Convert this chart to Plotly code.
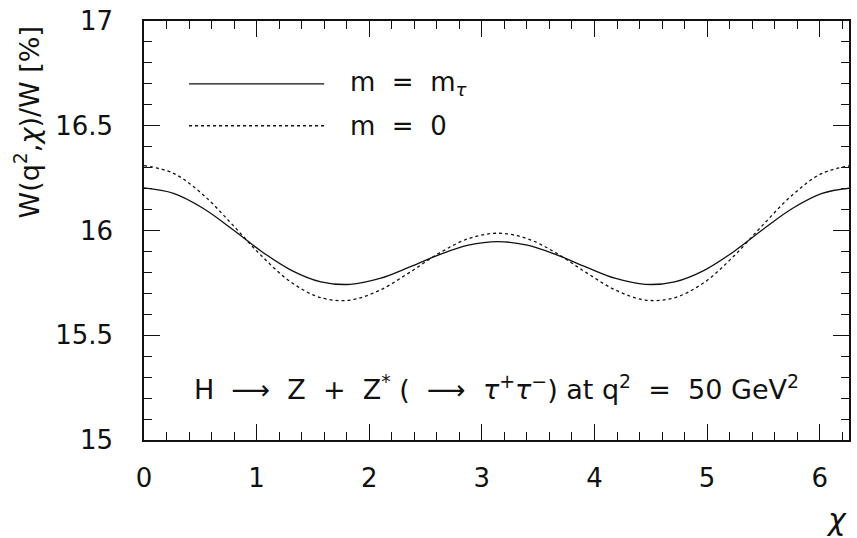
import plotly.graph_objects as go

# Angle chi between decay planes (rad), sampled every pi/12
chi = [0.000, 0.262, 0.524, 0.785, 1.047, 1.309, 1.571, 1.833, 2.094, 2.356,
       2.618, 2.880, 3.142, 3.403, 3.665, 3.927, 4.189, 4.451, 4.712, 4.974,
       5.236, 5.498, 5.760, 6.021, 6.283]

# W(q^2, chi)/W in percent, tau mass kept
w_mtau = [16.203, 16.177, 16.106, 16.006, 15.899, 15.810, 15.755, 15.743, 15.771,
          15.825, 15.884, 15.930, 15.947, 15.930, 15.884, 15.825, 15.771, 15.743,
          15.755, 15.810, 15.899, 16.006, 16.106, 16.177, 16.203]

# Same distribution for massless leptons
w_m0 = [16.310, 16.273, 16.171, 16.028, 15.877, 15.752, 15.679, 15.668, 15.715,
        15.799, 15.891, 15.961, 15.987, 15.961, 15.891, 15.799, 15.715, 15.668,
        15.679, 15.752, 15.877, 16.028, 16.171, 16.273, 16.310]

x_ticks = [0, 1, 2, 3, 4, 5, 6]
y_ticks = [15, 15.5, 16, 16.5, 17]
y_tick_text = ["15", "15.5", "16", "16.5", "17"]

FONT = "DejaVu Sans"
INK = "#111111"
SP = "\u00a0"
SP2 = SP * 2

fig = go.Figure()
fig.add_trace(go.Scatter(x=chi, y=w_mtau, mode="lines", line_shape="spline",
                         line=dict(color=INK, width=1.3), showlegend=False))
fig.add_trace(go.Scatter(x=chi, y=w_m0, mode="lines", line_shape="spline",
                         line=dict(color=INK, width=1.3, dash="dot"), showlegend=False))

axis_common = dict(showgrid=False, zeroline=False, showline=True, linecolor=INK,
                   linewidth=1.5, mirror="ticks", ticks="inside", ticklen=16,
                   tickwidth=1.2, tickcolor=INK,
                   tickfont=dict(family=FONT, size=26, color=INK))

fig.update_xaxes(range=[0, 6.26], tickvals=x_ticks, ticklabelstandoff=14,
                 minor=dict(dtick=0.2, ticks="inside", ticklen=8, tickwidth=1, tickcolor=INK),
                 **axis_common)
fig.update_yaxes(range=[15, 17], tickvals=y_ticks, ticktext=y_tick_text,
                 ticklabelstandoff=24,
                 minor=dict(dtick=0.1, ticks="inside", ticklen=8, tickwidth=1, tickcolor=INK),
                 **axis_common)

# Hand-drawn legend
fig.add_shape(type="line", x0=0.40, x1=1.60, y0=16.70, y1=16.70,
              line=dict(color=INK, width=1.3))
fig.add_shape(type="line", x0=0.40, x1=1.60, y0=16.50, y1=16.50,
              line=dict(color=INK, width=1.3, dash="dot"))

text_font = dict(family=FONT, size=26, color=INK)
fig.add_annotation(x=1.81, y=16.70, xanchor="left", yanchor="middle", showarrow=False,
                   text=f"m{SP2}={SP2}m<sub><i>τ</i></sub>", font=text_font)
fig.add_annotation(x=1.81, y=16.50, xanchor="left", yanchor="middle", showarrow=False,
                   text=f"m{SP2}={SP2}0", font=text_font)
fig.add_annotation(x=0.425, y=15.25, xanchor="left", yanchor="middle", showarrow=False,
                   text=(f"H{SP2}⟶{SP2}Z{SP2}+{SP2}Z<sup>*</sup>{SP}({SP2}⟶{SP2}"
                         "<i>τ</i><sup>+</sup><i>τ</i><sup>−</sup>) at q<sup>2</sup>"
                         f"{SP2}={SP2}50 GeV<sup>2</sup>"),
                   font=dict(family=FONT, size=27, color=INK))

# Axis titles
fig.add_annotation(xref="paper", yref="paper", x=-0.166, y=0.995, xanchor="center",
                   yanchor="top", textangle=-90, showarrow=False,
                   text="W(q<sup>2</sup>,<i>χ</i>)/W [%]", font=dict(family=FONT, size=27, color=INK))
fig.add_annotation(xref="paper", yref="paper", x=1.0, y=-0.19, xanchor="right",
                   yanchor="middle", showarrow=False, text="<i>χ</i>",
                   font=dict(family=FONT, size=30, color=INK))

fig.update_layout(width=857, height=538, margin=dict(l=144, r=6, t=16, b=98),
                  plot_bgcolor="white", paper_bgcolor="white", showlegend=False)

fig.write_html("out.html")
